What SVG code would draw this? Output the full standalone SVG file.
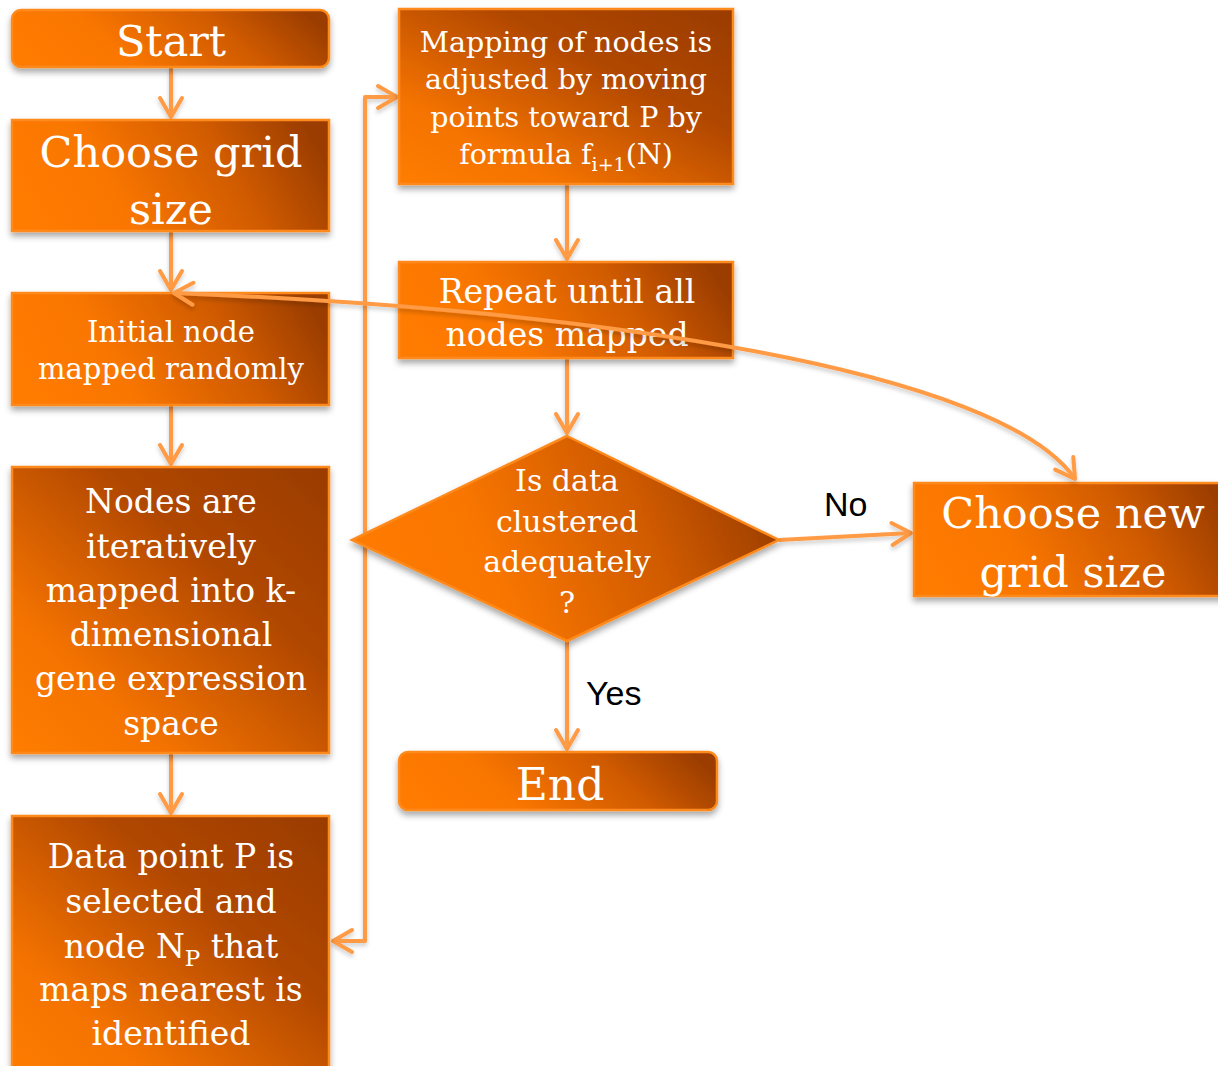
<svg xmlns="http://www.w3.org/2000/svg" width="1218" height="1066" viewBox="0 0 1218 1066">
<style>
.box{stroke:#FF8A1C;stroke-width:2.5;filter:url(#sh)}
.h{fill:url(#gh)}
.d{fill:url(#gd)}
.t{fill:#FFFFFF;font-family:"DejaVu Serif",serif;text-anchor:middle}
.lbl{fill:#000000;font-family:"Liberation Sans",Arial,sans-serif;font-size:34px}
.c{fill:none;stroke:#FF9A45;stroke-width:4;stroke-linejoin:round;filter:url(#shc)}
</style>
<defs>
<linearGradient id="gh" x1="0" y1="0.6" x2="1" y2="0.4">
<stop offset="0" stop-color="#FF7B00"/>
<stop offset="0.3" stop-color="#F97600"/>
<stop offset="0.7" stop-color="#CF5A00"/>
<stop offset="1" stop-color="#9B3D00"/>
</linearGradient>
<linearGradient id="gd" x1="0" y1="1" x2="1" y2="0">
<stop offset="0" stop-color="#FF7D00"/>
<stop offset="0.25" stop-color="#F47300"/>
<stop offset="0.65" stop-color="#B04700"/>
<stop offset="1" stop-color="#9A3C00"/>
</linearGradient>
<filter id="sh" x="-10%" y="-10%" width="120%" height="130%">
<feDropShadow dx="0" dy="4" stdDeviation="3" flood-color="#000" flood-opacity="0.35"/>
</filter>
<filter id="shc" filterUnits="userSpaceOnUse" x="0" y="0" width="1218" height="1066">
<feDropShadow dx="0" dy="3" stdDeviation="2" flood-color="#000" flood-opacity="0.2"/>
</filter>
<marker id="ah" markerUnits="userSpaceOnUse" markerWidth="30" markerHeight="30" viewBox="-24 -15 30 30" refX="0" refY="0" orient="auto-start-reverse">
<path d="M-19,-11 L0,0 L-19,11" fill="none" stroke="#FF9A45" stroke-width="4" stroke-linecap="round" stroke-linejoin="round"/>
</marker>
</defs>

<g id="connectors">
<path class="c" d="M171,67 L171,117" marker-end="url(#ah)"/>
<path class="c" d="M171,231 L171,290" marker-end="url(#ah)"/>
<path class="c" d="M171,405 L171,464" marker-end="url(#ah)"/>
<path class="c" d="M171,753 L171,813" marker-end="url(#ah)"/>
<path class="c" d="M333,941 L365,941 L365,97 L397,97" marker-start="url(#ah)" marker-end="url(#ah)"/>
<path class="c" d="M567,184 L567,259" marker-end="url(#ah)"/>
<path class="c" d="M567,358 L567,433" marker-end="url(#ah)"/>
<path class="c" d="M567,641 L567,749" marker-end="url(#ah)"/>
<path class="c" d="M779,540 L911,533" marker-end="url(#ah)"/>
</g>

<g id="start">
<rect class="box h" x="12" y="10" width="317" height="57" rx="9"/>
<text class="t" x="171" y="56" font-size="43">Start</text>
</g>
<g id="choose-grid">
<rect class="box h" x="12" y="120" width="317" height="111"/>
<text class="t" x="171" y="167" font-size="43">Choose grid</text>
<text class="t" x="171" y="224" font-size="43">size</text>
</g>
<g id="initial">
<rect class="box h" x="12" y="293" width="317" height="112"/>
<text class="t" x="171" y="342" font-size="29">Initial node</text>
<text class="t" x="171" y="379" font-size="29">mapped randomly</text>
</g>
<g id="nodes">
<rect class="box d" x="12" y="467" width="317" height="286"/>
<text class="t" x="171" y="513" font-size="33">Nodes are</text>
<text class="t" x="171" y="558" font-size="33">iteratively</text>
<text class="t" x="171" y="602" font-size="33">mapped into k-</text>
<text class="t" x="171" y="646" font-size="33">dimensional</text>
<text class="t" x="171" y="690" font-size="33">gene expression</text>
<text class="t" x="171" y="735" font-size="33">space</text>
</g>
<g id="data-point">
<rect class="box d" x="12" y="816" width="317" height="270"/>
<text class="t" x="171" y="868" font-size="33">Data point P is</text>
<text class="t" x="171" y="913" font-size="33">selected and</text>
<text class="t" x="171" y="958" font-size="33">node N<tspan dy="8" font-size="23">P</tspan><tspan dy="-8"> that</tspan></text>
<text class="t" x="171" y="1001" font-size="33">maps nearest is</text>
<text class="t" x="171" y="1045" font-size="33">identified</text>
</g>
<g id="mapping">
<rect class="box d" x="399" y="9" width="334" height="175"/>
<text class="t" x="566" y="52" font-size="28.5">Mapping of nodes is</text>
<text class="t" x="566" y="89" font-size="28.5">adjusted by moving</text>
<text class="t" x="566" y="127" font-size="28.5">points toward P by</text>
<text class="t" x="566" y="164" font-size="28.5">formula f<tspan dy="7" font-size="19">i+1</tspan><tspan dy="-7">(N)</tspan></text>
</g>
<g id="repeat">
<rect class="box h" x="399" y="262" width="334" height="96"/>
<text class="t" x="567" y="303" font-size="33">Repeat until all</text>
<text class="t" x="567" y="346" font-size="33">nodes mapped</text>
</g>
<g id="decision">
<polygon class="box" fill="url(#gh)" points="567,436 779,540 567,641 352,540"/>
<text class="t" x="567" y="491" font-size="30">Is data</text>
<text class="t" x="567" y="532" font-size="30">clustered</text>
<text class="t" x="567" y="572" font-size="30">adequately</text>
<text class="t" x="567" y="613" font-size="30">?</text>
</g>
<g id="choose-new">
<rect class="box h" x="914" y="483" width="320" height="113"/>
<text class="t" x="1073" y="528" font-size="43">Choose new</text>
<text class="t" x="1073" y="587" font-size="43">grid size</text>
</g>
<g id="end">
<rect class="box h" x="399" y="752" width="318" height="58" rx="9"/>
<text class="t" x="560" y="800" font-size="44">End</text>
</g>

<g id="connectors-over">
<path class="c" d="M174,293 C600,310 1000,370 1075,479" marker-start="url(#ah)" marker-end="url(#ah)"/>
</g>
<text class="lbl" x="824" y="516">No</text>
<text class="lbl" x="586" y="705">Yes</text>
</svg>
